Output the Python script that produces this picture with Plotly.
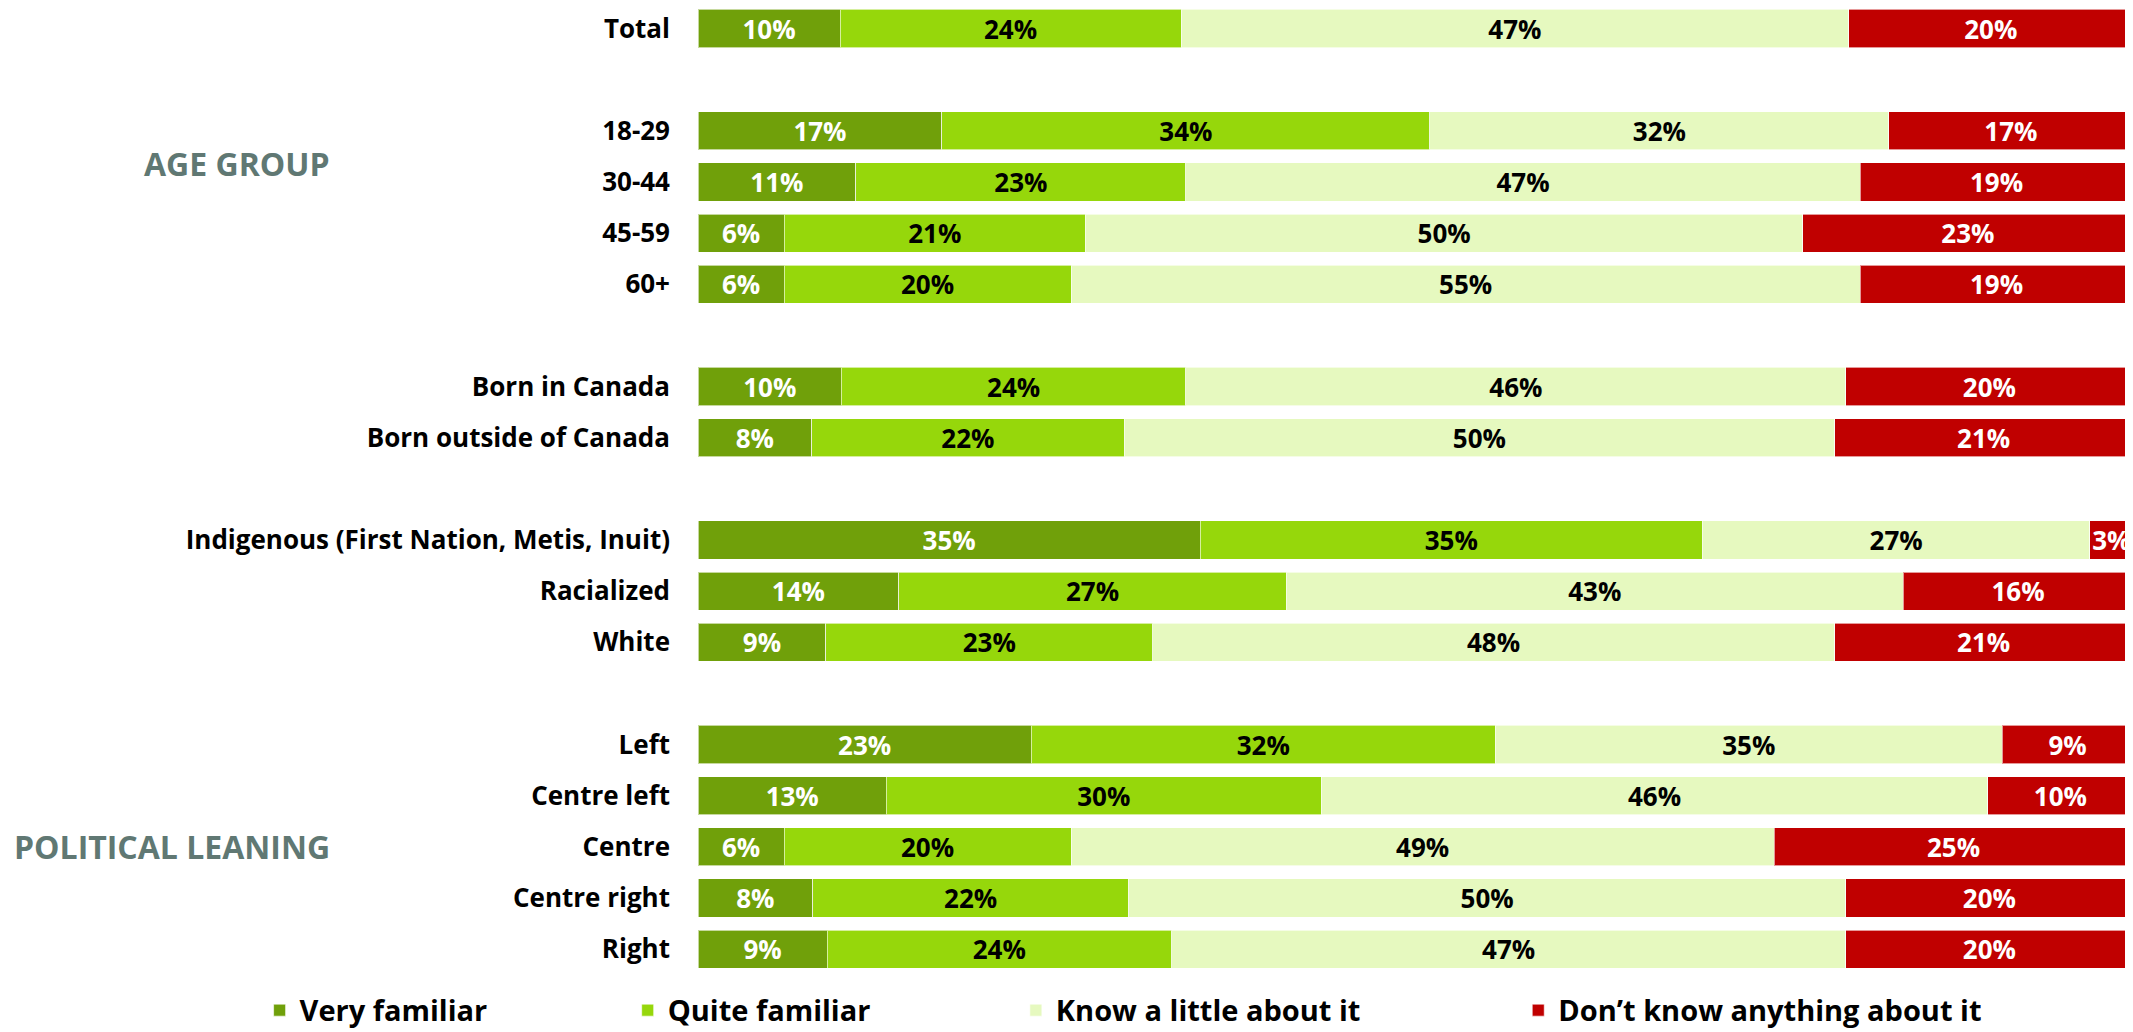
import plotly.graph_objects as go

# rows top to bottom; empty strings are the spacer rows between groups
ROWS = ["Total", "",
        "18-29", "30-44", "45-59", "60+", "",
        "Born in Canada", "Born outside of Canada", "",
        "Indigenous (First Nation, Metis, Inuit)", "Racialized", "White", "",
        "Left", "Centre left", "Centre", "Centre right", "Right"]

SERIES = ["Very familiar", "Quite familiar", "Know a little about it",
          "Don\u2019t know anything about it"]

VERY_FAMILIAR = [10, None, 17, 11, 6, 6, None, 10, 8, None, 35, 14, 9, None, 23, 13, 6, 8, 9]
QUITE_FAMILIAR = [24, None, 34, 23, 21, 20, None, 24, 22, None, 35, 27, 23, None, 32, 30, 20, 22, 24]
KNOW_A_LITTLE = [47, None, 32, 47, 50, 55, None, 46, 50, None, 27, 43, 48, None, 35, 46, 49, 50, 47]
DONT_KNOW = [20, None, 17, 19, 23, 19, None, 20, 21, None, 3, 16, 21, None, 9, 10, 25, 20, 20]

GROUPS = [("AGE GROUP", 2.63), ("POLITICAL LEANING", 16.0)]

COLORS = ["#70A00A", "#96D70B", "#E6F9BF", "#C00000"]
TEXT_COLORS = ["white", "black", "black", "white"]
LEGEND_X = [-0.3055, -0.049, 0.2215, 0.5716]

FONT = "'Open Sans', Lato, sans-serif"

fig = go.Figure()

pos = list(range(len(ROWS)))
values = [VERY_FAMILIAR, QUITE_FAMILIAR, KNOW_A_LITTLE, DONT_KNOW]
for i, (name, vals) in enumerate(zip(SERIES, values)):
    legend_id = "legend" if i == 0 else "legend%d" % (i + 1)
    fig.add_trace(go.Bar(
        y=pos,
        x=vals,
        orientation="h",
        name=name,
        legend=legend_id,
        showlegend=True,
        marker=dict(color=COLORS[i], line=dict(color="rgba(255,255,255,0.6)", width=1)),
        text=[("%d%%" % v) if v is not None else "" for v in vals],
        textposition="inside",
        insidetextanchor="middle",
        constraintext="none",
        cliponaxis=False,
        textangle=0,
        textfont=dict(family=FONT, size=26, color=TEXT_COLORS[i], weight=700),
        hoverinfo="skip",
    ))

layout_legends = {}
for i in range(len(SERIES)):
    key = "legend" if i == 0 else "legend%d" % (i + 1)
    layout_legends[key] = dict(
        x=LEGEND_X[i], y=-0.0365, xanchor="left", yanchor="middle",
        orientation="h", bgcolor="rgba(0,0,0,0)", visible=True,
        font=dict(family=FONT, size=29, color="black", weight=700),
    )

for label, ypos in GROUPS:
    fig.add_annotation(
        text=label, xref="paper", yref="y", x=-0.2551, y=ypos,
        xanchor="right", yanchor="middle", showarrow=False,
        font=dict(family=FONT, size=32, color="#607873", weight=700),
    )

# the page puts the figure 8px in from the top-left corner
fig.update_layout(
    width=2125, height=1024,
    margin=dict(l=690, r=0, t=0, b=57, autoexpand=False),
    showlegend=True,
    barmode="stack",
    barnorm="percent",
    bargap=0.255,
    plot_bgcolor="white",
    paper_bgcolor="white",
    xaxis=dict(range=[0, 100.01], visible=False, fixedrange=True),
    yaxis=dict(
        range=[18.506, -0.401],
        tickvals=pos, ticktext=ROWS,
        showgrid=False, zeroline=False, showline=False,
        ticklabelstandoff=27, automargin=False,
        tickfont=dict(family=FONT, size=26, color="black", weight=700),
        fixedrange=True,
    ),
    **layout_legends,
)

fig.write_html("out.html")
